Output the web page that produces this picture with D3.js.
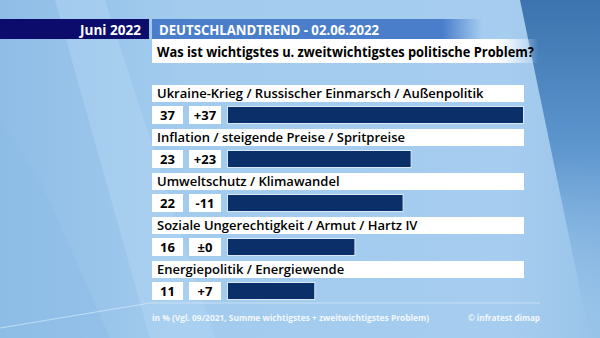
<!DOCTYPE html>
<html>
<head>
<meta charset="utf-8">
<script src="https://cdn.jsdelivr.net/npm/d3@7"></script>
<style>
  body { margin: 0; padding: 0; overflow: hidden; }
  svg { display: block; font-family: "Open Sans", "Noto Sans", sans-serif; }
</style>
</head>
<body>
<div id="container"></div>
<script>
/* CONSTANTS AND GLOBALS */
const width = 600;
const height = 338;

// DATA
const categories = [
    "Ukraine-Krieg / Russischer Einmarsch / Außenpolitik",
    "Inflation / steigende Preise / Spritpreise",
    "Umweltschutz / Klimawandel",
    "Soziale Ungerechtigkeit / Armut / Hartz IV",
    "Energiepolitik / Energiewende"
];
const values = [37, 23, 22, 16, 11];
const changes = ["+37", "+23", "-11", "±0", "+7"];

const monthLabel = "Juni 2022";
const titleText = "DEUTSCHLANDTREND - 02.06.2022";
const subtitleText = "Was ist wichtigstes u. zweitwichtigstes politische Problem?";
const footnote = "in % (Vgl. 09/2021, Summe wichtigstes + zweitwichtigstes Problem)";
const source = "© infratest dimap";

const rows = categories.map((c, i) => ({ cat: c, value: values[i], change: changes[i] }));

// CREATE SVG
const svg = d3.select("#container")
    .append("svg")
    .attr("width", width)
    .attr("height", height);

const defs = svg.append("defs");

const bg = defs.append("linearGradient").attr("id", "bg")
    .attr("x1", 0).attr("y1", 0).attr("x2", 1).attr("y2", 0);
bg.append("stop").attr("offset", "0%").attr("stop-color", "#8fbde6");
bg.append("stop").attr("offset", "30%").attr("stop-color", "#a2cbee");
bg.append("stop").attr("offset", "85%").attr("stop-color", "#a6cdef");
bg.append("stop").attr("offset", "100%").attr("stop-color", "#98c3e9");

const blueFade = defs.append("linearGradient").attr("id", "blueFade")
    .attr("x1", 0).attr("y1", 0).attr("x2", 1).attr("y2", 0);
blueFade.append("stop").attr("offset", "0%").attr("stop-color", "#4a7ecb");
blueFade.append("stop").attr("offset", "88%").attr("stop-color", "#4a7ecb");
blueFade.append("stop").attr("offset", "100%").attr("stop-color", "#4a7ecb").attr("stop-opacity", 0);

const whiteFade = defs.append("linearGradient").attr("id", "whiteFade")
    .attr("x1", 0).attr("y1", 0).attr("x2", 1).attr("y2", 0);
whiteFade.append("stop").attr("offset", "0%").attr("stop-color", "#ffffff");
whiteFade.append("stop").attr("offset", "90%").attr("stop-color", "#ffffff");
whiteFade.append("stop").attr("offset", "100%").attr("stop-color", "#ffffff").attr("stop-opacity", 0);

const darkCorner = defs.append("linearGradient").attr("id", "darkCorner")
    .attr("x1", 0).attr("y1", 0).attr("x2", 0).attr("y2", 1);
darkCorner.append("stop").attr("offset", "0%").attr("stop-color", "#3b74ae");
darkCorner.append("stop").attr("offset", "45%").attr("stop-color", "#5f97cf");
darkCorner.append("stop").attr("offset", "100%").attr("stop-color", "#8fbde6").attr("stop-opacity", 0);

// BACKGROUND
svg.append("rect")
    .attr("width", width).attr("height", height)
    .attr("fill", "url(#bg)");

// diagonal streaks
svg.append("path")
    .attr("d", "M55,0 L105,0 L215,338 L150,338 Z")
    .attr("fill", "#b4d6f3").attr("opacity", 0.45);
svg.append("path")
    .attr("d", "M0,120 L40,180 L110,338 L0,338 Z")
    .attr("fill", "#8cbbe5").attr("opacity", 0.5);
svg.append("path")
    .attr("d", "M520,0 L600,0 L600,338 L590,338 Z")
    .attr("fill", "url(#darkCorner)");

// decorative thin line
svg.append("path")
    .attr("d", "M0,328 L150,303 L540,303")
    .attr("fill", "none")
    .attr("stroke", "#d6e9f8")
    .attr("stroke-width", 1)
    .attr("opacity", 0.7);

// HEADER
svg.append("rect")
    .attr("x", 0).attr("y", 19).attr("width", 149).attr("height", 20)
    .attr("fill", "#0b0c6c");
svg.append("text")
    .attr("x", 141).attr("y", 35)
    .attr("text-anchor", "end")
    .attr("fill", "#ffffff")
    .style("font-size", "14.5px").style("font-weight", "700")
    .attr("textLength", 61).attr("lengthAdjust", "spacingAndGlyphs")
    .text(monthLabel);

svg.append("rect")
    .attr("x", 152).attr("y", 19).attr("width", 330).attr("height", 20)
    .attr("fill", "url(#blueFade)");
svg.append("text")
    .attr("x", 159).attr("y", 35)
    .attr("fill", "#ffffff")
    .style("font-size", "14.5px").style("font-weight", "700")
    .attr("textLength", 220).attr("lengthAdjust", "spacingAndGlyphs")
    .text(titleText);

svg.append("rect")
    .attr("x", 152).attr("y", 39).attr("width", 386).attr("height", 24)
    .attr("fill", "url(#whiteFade)");
svg.append("text")
    .attr("x", 157).attr("y", 57)
    .attr("fill", "#000000")
    .style("font-size", "14.5px").style("font-weight", "700")
    .attr("textLength", 377).attr("lengthAdjust", "spacingAndGlyphs")
    .text(subtitleText);

/* SCALES */
const yScale = d3.scaleBand()
    .domain(categories)
    .range([85, 85 + 44 * categories.length]);

const xScale = d3.scaleLinear()
    .domain([0, d3.max(values)])
    .range([227, 524]);

const labelH = 17;
const valueY = 21;
const valueH = 18;

const row = svg.selectAll("g.row")
    .data(rows)
    .join("g")
    .attr("class", "row")
    .attr("transform", d => `translate(0,${yScale(d.cat)})`);

// label boxes
row.append("rect")
    .attr("x", 152).attr("y", 0)
    .attr("width", 524 - 152).attr("height", labelH)
    .attr("fill", "#ffffff");
row.append("text")
    .attr("x", 157).attr("y", 13)
    .attr("fill", "#000000")
    .style("font-size", "13px").style("font-weight", "600")
    .text(d => d.cat);

// value box
row.append("rect")
    .attr("x", 152).attr("y", valueY)
    .attr("width", 31).attr("height", valueH)
    .attr("fill", "#ffffff");
row.append("text")
    .attr("x", 167.5).attr("y", valueY + 14)
    .attr("text-anchor", "middle")
    .attr("fill", "#000000")
    .style("font-size", "13px").style("font-weight", "700")
    .text(d => d.value);

// change box
row.append("rect")
    .attr("x", 189).attr("y", valueY)
    .attr("width", 32).attr("height", valueH)
    .attr("fill", "#ffffff");
row.append("text")
    .attr("x", 205).attr("y", valueY + 14)
    .attr("text-anchor", "middle")
    .attr("fill", "#000000")
    .style("font-size", "13px").style("font-weight", "700")
    .text(d => d.change);

// bars
row.append("rect")
    .attr("class", "bars")
    .attr("x", xScale(0) + 0.5).attr("y", valueY + 0.5)
    .attr("width", d => xScale(d.value) - xScale(0) - 1)
    .attr("height", valueH - 1)
    .attr("fill", "#0a2f69")
    .attr("stroke", "#dbe8f5")
    .attr("stroke-width", 1);

// FOOTER
svg.append("text")
    .attr("x", 152).attr("y", 321)
    .attr("fill", "#f2f8fd")
    .style("font-size", "9.5px").style("font-weight", "700")
    .attr("textLength", 277).attr("lengthAdjust", "spacingAndGlyphs")
    .text(footnote);

svg.append("text")
    .attr("x", 540).attr("y", 321)
    .attr("text-anchor", "end")
    .attr("fill", "#f2f8fd")
    .style("font-size", "9.5px").style("font-weight", "700")
    .attr("textLength", 72).attr("lengthAdjust", "spacingAndGlyphs")
    .text(source);
</script>
</body>
</html>
